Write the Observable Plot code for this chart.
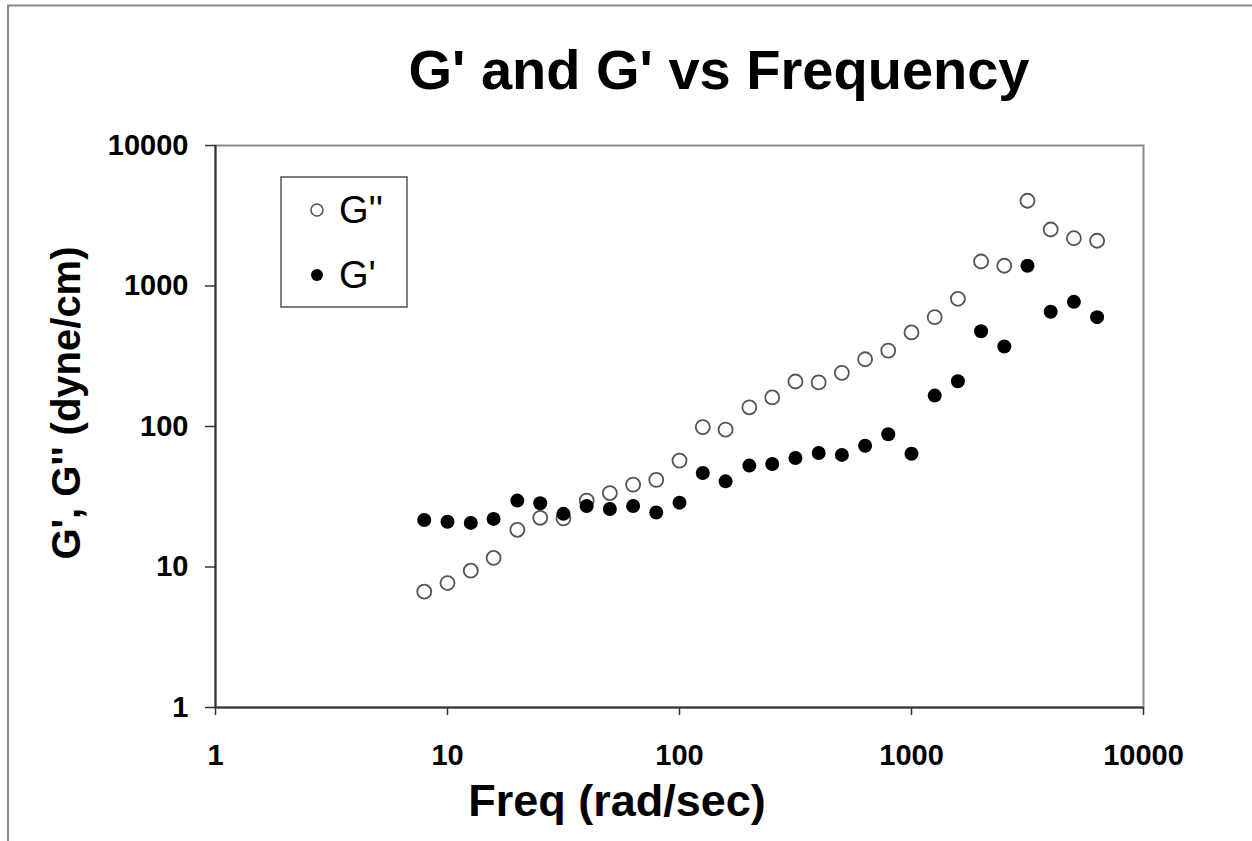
<!DOCTYPE html>
<html>
<head>
<meta charset="utf-8">
<script src="https://cdn.jsdelivr.net/npm/d3@7"></script>
<script src="https://cdn.jsdelivr.net/npm/@observablehq/plot@0.6"></script>
<style>
  html, body { margin: 0; padding: 0; background: #fff; }
  #wrap { position: relative; width: 1252px; height: 841px; overflow: hidden; font-family: "Liberation Sans", Arial, sans-serif; }
  #wrap > svg { position: absolute; left: 0; top: 0; }
  #overlay { pointer-events: none; }
</style>
</head>
<body>
<div id="wrap"></div>
<script>
// ---- data ----
const freq = [7.94, 10, 12.6, 15.8, 20, 25.1, 31.6, 39.8, 50.1, 63.1, 79.4, 100, 126, 158, 200, 251, 316, 398, 501, 631, 794, 1000, 1259, 1585, 1995, 2512, 3162, 3981, 5012, 6310];
const gDoublePrime = [6.67, 7.69, 9.41, 11.6, 18.4, 22.4, 22.2, 29.7, 33.6, 38.6, 41.7, 57.2, 99, 95, 137, 161, 209, 206, 241, 301, 347, 467, 600, 811, 1494, 1393, 4045, 2524, 2188, 2099];
const gPrime = [21.6, 21.0, 20.6, 22.0, 29.7, 28.4, 23.9, 27.2, 25.9, 27.2, 24.4, 28.7, 46.7, 40.7, 52.7, 54.1, 59.7, 64.8, 62.8, 73, 88, 64, 166, 210, 476, 371, 1393, 655, 771, 600];
const xTicks = [1, 10, 100, 1000, 10000];
const yTicks = [1, 10, 100, 1000, 10000];
const titleText = "G' and G' vs Frequency";
const xLabel = "Freq (rad/sec)";
const yLabel = "G', G'' (dyne/cm)";
const seriesNames = ["G''", "G'"];

const rowsG2 = freq.map((f, i) => ({f, v: gDoublePrime[i]}));
const rowsG1 = freq.map((f, i) => ({f, v: gPrime[i]}));

const chart = Plot.plot({
  width: 1252,
  height: 841,
  marginLeft: 215,
  marginRight: 109,
  marginTop: 145,
  marginBottom: 134,
  style: {fontFamily: "'Liberation Sans', Arial, sans-serif", fontSize: "29px", fontWeight: "bold", color: "#000", background: "transparent", overflow: "visible"},
  x: {type: "log", domain: [1, 10000]},
  y: {type: "log", domain: [1, 10000]},
  marks: [
    Plot.frame({stroke: "#8a8a8a", strokeWidth: 2}),
    Plot.ruleX([1], {stroke: "#333", strokeWidth: 2}),
    Plot.ruleY([1], {stroke: "#333", strokeWidth: 2}),
    Plot.axisX({ticks: xTicks, tickFormat: d3.format("d"), tickSize: 8, tickPadding: 29, label: null, stroke: "#333", strokeWidth: 1.5, fill: "#000"}),
    Plot.axisY({ticks: yTicks, tickFormat: d3.format("d"), tickSize: 10, tickPadding: 17, label: null, stroke: "#333", strokeWidth: 1.5, fill: "#000"}),
    Plot.dot(rowsG2, {x: "f", y: "v", r: 7, stroke: "#555", strokeWidth: 1.8, fill: "none"}),
    Plot.dot(rowsG1, {x: "f", y: "v", r: 7, fill: "#000", stroke: "none"})
  ]
});
document.getElementById("wrap").appendChild(chart);

// ---- overlay: border, title, axis labels, legend ----
const ov = d3.select("#wrap").append("svg").attr("id", "overlay")
  .attr("width", 1252).attr("height", 841)
  .style("font-family", "'Liberation Sans', Arial, sans-serif");

ov.append("path").attr("d", "M8,841 V5.5 H1252").attr("fill", "none").attr("stroke", "#8a8a8a").attr("stroke-width", 2);

ov.append("text").attr("x", 719).attr("y", 89).attr("text-anchor", "middle")
  .attr("font-size", 56).attr("font-weight", "bold").text(titleText);

ov.append("text").attr("x", 617).attr("y", 816).attr("text-anchor", "middle")
  .attr("font-size", 45).attr("font-weight", "bold").text(xLabel);

ov.append("text").attr("transform", "translate(80,403) rotate(-90)").attr("text-anchor", "middle")
  .attr("font-size", 40).attr("font-weight", "bold").text(yLabel);

const lg = ov.append("g");
lg.append("rect").attr("x", 281).attr("y", 177).attr("width", 126).attr("height", 130)
  .attr("fill", "#fff").attr("stroke", "#555").attr("stroke-width", 1.5);
lg.append("circle").attr("cx", 317).attr("cy", 210).attr("r", 6).attr("fill", "none").attr("stroke", "#555").attr("stroke-width", 1.6);
lg.append("text").attr("x", 339).attr("y", 223).attr("font-size", 38).text(seriesNames[0]);
lg.append("circle").attr("cx", 317).attr("cy", 275).attr("r", 6).attr("fill", "#000");
lg.append("text").attr("x", 339).attr("y", 288).attr("font-size", 38).text(seriesNames[1]);
</script>
</body>
</html>
